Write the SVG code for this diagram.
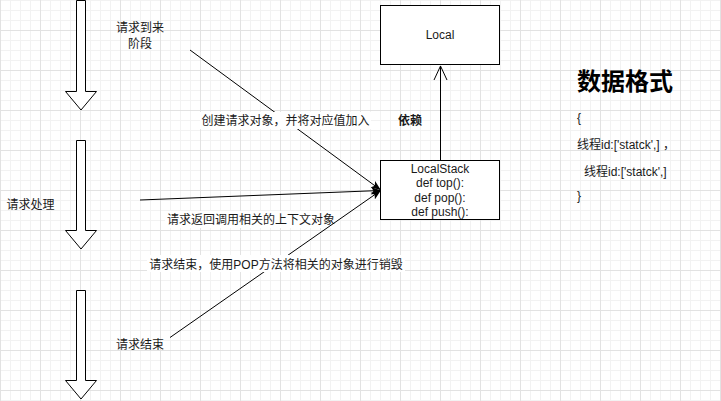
<svg xmlns="http://www.w3.org/2000/svg" width="721" height="401" viewBox="0 0 721 401">
<style>
text{font-family:"Liberation Sans","Noto Sans CJK SC",sans-serif;font-size:12px;fill:#1a1a1a}
.c{text-anchor:middle}
.b{font-weight:bold}
.box{fill:#fff;stroke:#000;stroke-width:1}
.big{fill:#fff;stroke:#000;stroke-width:1}
.edge{fill:none;stroke:#000;stroke-width:1}
.lbg{fill:#fff}
</style>
<defs>
<pattern id="minor" width="10" height="10" patternUnits="userSpaceOnUse">
<rect x="0" y="0" width="10" height="1" fill="#f2f2f2"/>
<rect x="0" y="0" width="1" height="10" fill="#f2f2f2"/>
</pattern>
<pattern id="major" x="0" y="30" width="40" height="40" patternUnits="userSpaceOnUse">
<rect x="0" y="0" width="40" height="1" fill="#e2e2e2"/>
<rect x="0" y="0" width="1" height="40" fill="#e2e2e2"/>
</pattern>
<marker id="arr" markerWidth="10" markerHeight="8" refX="9" refY="4" orient="auto" markerUnits="userSpaceOnUse">
<path d="M0,0 L10,4 L0,8 L2.5,4 Z" fill="#000"/>
</marker>
</defs>
<rect width="721" height="401" fill="#fff"/>
<rect width="721" height="401" fill="url(#minor)"/>
<rect width="721" height="401" fill="url(#major)"/>

<g id="phase-arrive">
<polygon class="big" points="76.5,0.5 85.5,0.5 85.5,91.5 96.5,91.5 81,110 65.5,91.5 76.5,91.5"/>
<text class="c" x="140" y="31.5">请求到来</text>
<text class="c" x="140" y="47.5">阶段</text>
</g>
<g id="phase-process">
<polygon class="big" points="76.5,140.5 85.5,140.5 85.5,230.5 96.5,230.5 81,249 65.5,230.5 76.5,230.5"/>
<text x="6.5" y="208.5">请求处理</text>
</g>
<g id="phase-end">
<polygon class="big" points="76.5,290.5 85.5,290.5 85.5,380.5 96.5,380.5 81,399 65.5,380.5 76.5,380.5"/>
<text class="c" x="140" y="349">请求结束</text>
</g>

<g id="local">
<rect class="box" x="380.5" y="5.5" width="119" height="59"/>
<text class="c" x="440" y="39">Local</text>
</g>
<g id="localstack">
<rect class="box" x="380.5" y="160.5" width="119" height="59"/>
<text class="c" x="440" y="173">LocalStack</text>
<text class="c" x="440" y="187">def top():</text>
<text class="c" x="440" y="201.5">def pop():</text>
<text class="c" x="440" y="215.5">def push():</text>
</g>

<g id="connectors">
<line class="edge" x1="190" y1="50" x2="380" y2="189.5" marker-end="url(#arr)"/>
<rect class="lbg" x="200" y="112" width="171" height="17"/>
<text class="c" x="285.5" y="125">创建请求对象，并将对应值加入</text>
<line class="edge" x1="140" y1="200" x2="380" y2="190.5" marker-end="url(#arr)"/>
<rect class="lbg" x="165" y="211" width="172" height="17"/>
<text class="c" x="251" y="224">请求返回调用相关的上下文对象</text>
<line class="edge" x1="170" y1="337.5" x2="380" y2="191" marker-end="url(#arr)"/>
<rect class="lbg" x="147" y="255" width="258" height="17"/>
<text class="c" x="276" y="269">请求结束，使用POP方法将相关的对象进行销毁</text>
<line class="edge" x1="440.5" y1="160" x2="440.5" y2="66"/>
<polyline class="edge" points="434,80 440.5,66 447,80"/>
<text class="c b" x="410" y="125">依赖</text>
</g>

<g id="data-format">
<text class="b" x="577" y="90" style="font-size:24px;fill:#000">数据格式</text>
<text x="577" y="122">{</text>
<text x="577" y="149">线程id:['statck',] ，</text>
<text x="584" y="176">线程id:['statck',]</text>
<text x="577" y="200">}</text>
</g>
</svg>
